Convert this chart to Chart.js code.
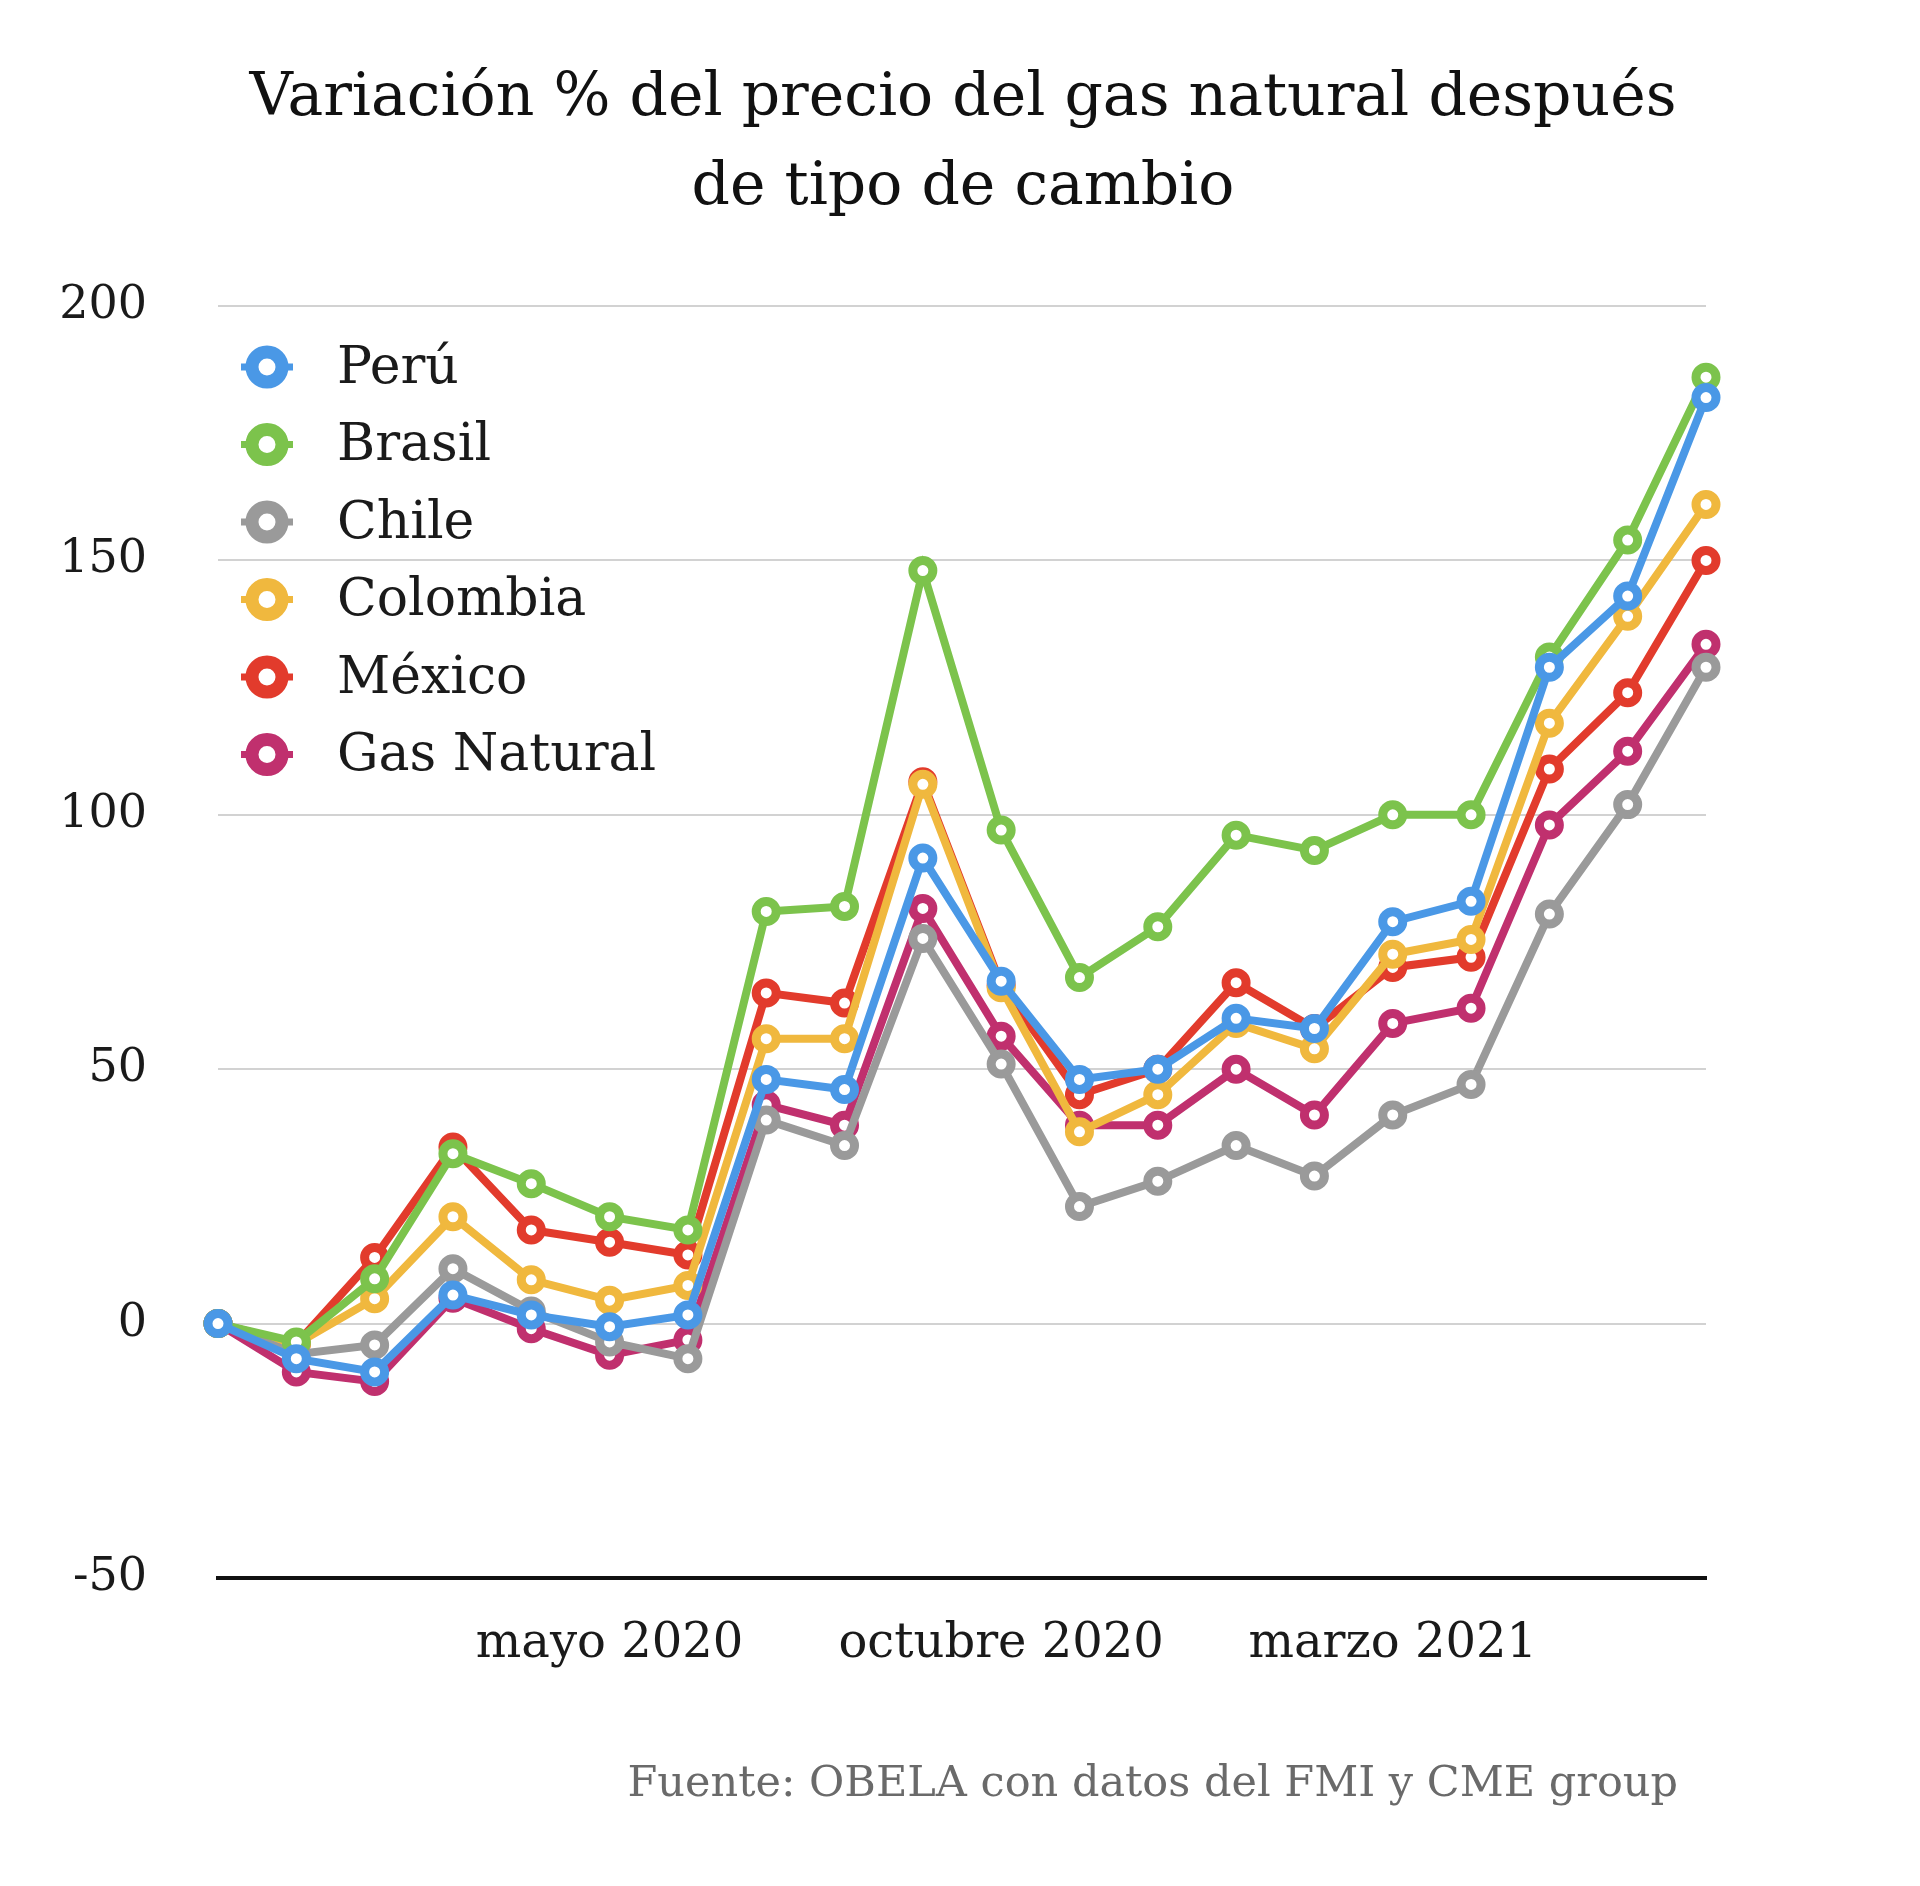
<!DOCTYPE html>
<html><head><meta charset="utf-8">
<script src="https://cdn.jsdelivr.net/npm/chart.js@4.4.1/dist/chart.umd.min.js"></script>
<style>html,body{margin:0;padding:0;background:#fff;}#wrap{width:1920px;height:1886px;}</style>
</head><body><div id="wrap"><canvas id="c" width="1920" height="1886"></canvas></div>
<script>
const months = ["diciembre 2019","enero 2020","febrero 2020","marzo 2020","abril 2020","mayo 2020","junio 2020","julio 2020","agosto 2020","septiembre 2020","octubre 2020","noviembre 2020","diciembre 2020","enero 2021","febrero 2021","marzo 2021","abril 2021","mayo 2021","junio 2021","julio 2021"];
const shownTicks = ["mayo 2020","octubre 2020","marzo 2021"];
const yTicks = [-50, 0, 50, 100, 150, 200];
const seriesNames = ["Perú","Brasil","Chile","Colombia","México","Gas Natural"];
const peru     = [0,-6.9,-9.5,5.6,1.7,-0.6,1.7,48,46,91.5,67.3,48,50,60,58,79,83,129,143,182];
const brasil   = [0,-3.6,8.8,33.4,27.5,21,18.4,81,82,148,97,68,78,96,93,100,100,131,154,186];
const chile    = [0,-6,-4.2,10.8,2.5,-3.6,-6.9,40,35,75.7,51,23,28,35,29,41,47,80.5,102,129];
const colombia = [0,-4,4.9,21,8.6,4.6,7.5,56,56,106,66,37.7,45,59,54,72.6,75.5,118,139,161];
const mexico   = [0,-4,13,34.7,18.4,16,13.5,65,63,106.5,66.5,45,50,67,58,70,72,109,124,150];
const gas      = [0,-9.5,-11.4,5,-1,-6.2,-3.2,43,39,81.6,56.5,39,39,50,41,59,62,98,112.5,133.5];
const titleLines = ["Variación % del precio del gas natural después","de tipo de cambio"];
const sourceText = "Fuente: OBELA con datos del FMI y CME group";

const colors = ["#4a98e6","#7cc34c","#9a9a9a","#f0b83e","#e23b2c","#c0306e"];
const values = [peru, brasil, chile, colombia, mexico, gas];
const SERIF = "'DejaVu Serif', serif";

const datasets = seriesNames.map((n,i)=>({
  label:n, data:values[i], borderColor:colors[i], backgroundColor:'#ffffff',
  pointBackgroundColor:'#ffffff', pointBorderColor:colors[i],
  borderWidth:8, pointRadius:10, pointBorderWidth:9, pointHoverRadius:10,
  tension:0, fill:false
}));

const overlay = {
  id:'overlay',
  afterDraw(chart){
    const ctx = chart.ctx;
    ctx.save();
    ctx.fillStyle = '#111';
    ctx.font = "60px " + SERIF;
    ctx.textAlign = 'center'; ctx.textBaseline = 'middle';
    titleLines.forEach((t,i)=>ctx.fillText(t, 963, 99 + i*89));
    chart.data.datasets.forEach((ds,i)=>{
      const y = 367 + i*77.5, x = 267;
      ctx.strokeStyle = ds.borderColor;
      ctx.lineWidth = 7;
      ctx.beginPath(); ctx.moveTo(x-26,y); ctx.lineTo(x+26,y); ctx.stroke();
      ctx.fillStyle = '#fff';
      ctx.lineWidth = 13;
      ctx.beginPath(); ctx.arc(x,y,15,0,Math.PI*2); ctx.fill(); ctx.stroke();
      ctx.fillStyle = '#1a1a1a';
      ctx.font = "52px " + SERIF;
      ctx.textBaseline = 'middle'; ctx.textAlign = 'left';
      ctx.fillText(ds.label, 337, y+2);
    });
    ctx.fillStyle = '#6a6a6a';
    ctx.font = "43px " + SERIF;
    ctx.textAlign = 'right'; ctx.textBaseline = 'middle';
    ctx.fillText(sourceText, 1678, 1785);
    ctx.restore();
  }
};

new Chart(document.getElementById('c'), {
  type:'line',
  data:{labels:months, datasets},
  plugins:[overlay],
  options:{
    responsive:false, animation:false, devicePixelRatio:1,
    layout:{padding:{left:0,right:214,top:306,bottom:158}},
    plugins:{ legend:{display:false}, tooltip:{enabled:false}, title:{display:false} },
    scales:{
      x:{
        offset:false,
        afterFit:s=>{s.height=150;},
        grid:{display:false, drawTicks:false},
        border:{display:true, color:'#111', width:4},
        ticks:{autoSkip:false, maxRotation:0, minRotation:0, padding:38, color:'#1a1a1a',
          font:{family:SERIF, size:48},
          callback:function(v,i){const l=this.getLabelForValue(v);return shownTicks.includes(l)?l:'';}}
      },
      y:{
        min:-50, max:200,
        afterFit:s=>{s.width=218;},
        afterBuildTicks:s=>{s.ticks=yTicks.map(v=>({value:v}));},
        grid:{drawTicks:false, lineWidth:2, color:c=>c.tick && c.tick.value===-50?'rgba(0,0,0,0)':'#d2d2d2'},
        border:{display:false},
        ticks:{padding:71, color:'#1a1a1a', font:{family:SERIF, size:46}}
      }
    }
  }
});
</script></body></html>
